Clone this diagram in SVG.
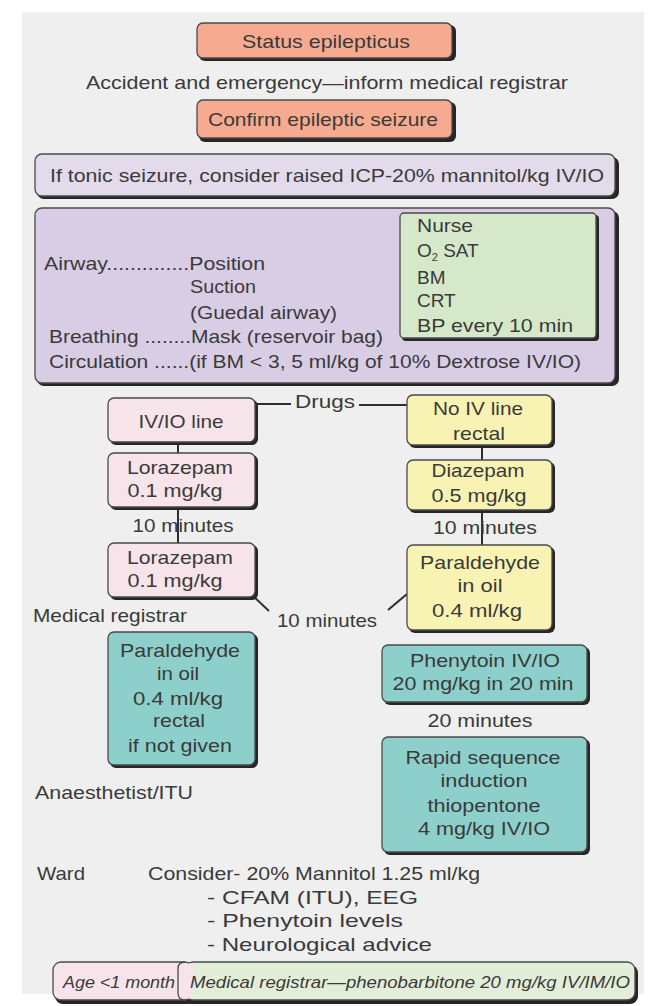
<svg xmlns="http://www.w3.org/2000/svg" width="652" height="1006" viewBox="0 0 652 1006">
<style>
text{font-family:"Liberation Sans",Arial,sans-serif;font-size:19px;fill:#3a3a3a}
.c{text-anchor:middle}
.sh{fill:#262626}
.b{stroke:#4a4a4a;stroke-width:1.3}
.salmon{fill:#f6aa8f}
.lav1{fill:#e3dbec}
.lav2{fill:#d9cde6}
.green{fill:#d6e8ca}
.pink{fill:#f7e4ea}
.yellow{fill:#f8f3b2}
.teal{fill:#8dcfcb}
.ln{stroke:#2e2e2e;stroke-width:2;fill:none}
.it{font-style:italic;font-size:17px}
</style>
<rect x="0" y="0" width="652" height="1006" fill="#ffffff"/>
<rect x="22" y="12" width="622" height="982" fill="#efefef"/>

<g id="connectors">
<line class="ln" x1="255" y1="404" x2="291" y2="404"/>
<line class="ln" x1="359" y1="405" x2="407" y2="405"/>
<line class="ln" x1="178" y1="442" x2="178" y2="453"/>
<line class="ln" x1="178" y1="507" x2="178" y2="543"/>
<line class="ln" x1="482" y1="445" x2="482" y2="460"/>
<line class="ln" x1="482" y1="510" x2="482" y2="545"/>
<line class="ln" x1="252" y1="595" x2="269" y2="611"/>
<line class="ln" x1="388" y1="610" x2="407" y2="594"/>
</g>

<g id="n-status">
<rect class="sh" x="199" y="25" width="257" height="36" rx="6"/>
<rect class="salmon b" x="197" y="23" width="255" height="35" rx="6"/>
<text class="c" x="326" y="48" textLength="168" lengthAdjust="spacingAndGlyphs">Status epilepticus</text>
</g>

<text id="t-ae" class="c" x="327" y="89" textLength="482" lengthAdjust="spacingAndGlyphs">Accident and emergency—inform medical registrar</text>

<g id="n-confirm">
<rect class="sh" x="199" y="102" width="257" height="40" rx="6"/>
<rect class="salmon b" x="197" y="100" width="255" height="38" rx="6"/>
<text class="c" x="323" y="126" textLength="230" lengthAdjust="spacingAndGlyphs">Confirm epileptic seizure</text>
</g>

<g id="n-icp">
<rect class="sh" x="37" y="157" width="582" height="42" rx="7"/>
<rect class="lav1 b" x="35" y="154" width="580" height="42" rx="7"/>
<text class="c" x="327" y="182" textLength="554" lengthAdjust="spacingAndGlyphs">If tonic seizure, consider raised ICP-20% mannitol/kg IV/IO</text>
</g>

<g id="n-abc">
<rect class="sh" x="37" y="211" width="582" height="175" rx="7"/>
<rect class="lav2 b" x="35" y="208" width="580" height="175" rx="7"/>
<text x="44" y="270" textLength="221" lengthAdjust="spacingAndGlyphs">Airway..............Position</text>
<text x="190" y="293" textLength="66" lengthAdjust="spacingAndGlyphs">Suction</text>
<text x="190" y="319" textLength="147" lengthAdjust="spacingAndGlyphs">(Guedal airway)</text>
<text x="49" y="343" textLength="334" lengthAdjust="spacingAndGlyphs">Breathing ........Mask (reservoir bag)</text>
<text x="49" y="368" textLength="532" lengthAdjust="spacingAndGlyphs">Circulation ......(if BM &lt; 3, 5 ml/kg of 10% Dextrose IV/IO)</text>
</g>

<g id="n-nurse">
<rect class="sh" x="402" y="215" width="197" height="126" rx="4"/>
<rect class="green b" x="400" y="213" width="196" height="125" rx="4"/>
<text x="417" y="232" textLength="56" lengthAdjust="spacingAndGlyphs">Nurse</text>
<text x="417" y="257">O<tspan font-size="11" dy="4">2</tspan><tspan dy="-4"> SAT</tspan></text>
<text x="417" y="284">BM</text>
<text x="417" y="307">CRT</text>
<text x="417" y="332" textLength="156" lengthAdjust="spacingAndGlyphs">BP every 10 min</text>
</g>

<g id="n-ivio">
<rect class="sh" x="110" y="400" width="148" height="45" rx="6"/>
<rect class="pink b" x="108" y="398" width="147" height="44" rx="6"/>
<text class="c" x="181" y="428" textLength="85" lengthAdjust="spacingAndGlyphs">IV/IO line</text>
</g>

<text id="t-drugs" x="295" y="408" textLength="60" lengthAdjust="spacingAndGlyphs">Drugs</text>

<g id="n-noiv">
<rect class="sh" x="409" y="397" width="146" height="51" rx="6"/>
<rect class="yellow b" x="407" y="395" width="145" height="50" rx="6"/>
<text class="c" x="478" y="415" textLength="90" lengthAdjust="spacingAndGlyphs">No IV line</text>
<text class="c" x="479" y="440" textLength="52" lengthAdjust="spacingAndGlyphs">rectal</text>
</g>

<g id="n-lor1">
<rect class="sh" x="110" y="455" width="148" height="55" rx="6"/>
<rect class="pink b" x="108" y="453" width="147" height="54" rx="6"/>
<text class="c" x="180" y="474" textLength="106" lengthAdjust="spacingAndGlyphs">Lorazepam</text>
<text class="c" x="175" y="497" textLength="95" lengthAdjust="spacingAndGlyphs">0.1 mg/kg</text>
</g>

<text id="t-10a" class="c" x="183" y="532" textLength="101" lengthAdjust="spacingAndGlyphs">10 minutes</text>

<g id="n-diaz">
<rect class="sh" x="409" y="462" width="146" height="51" rx="6"/>
<rect class="yellow b" x="407" y="460" width="145" height="50" rx="6"/>
<text class="c" x="478" y="477" textLength="93" lengthAdjust="spacingAndGlyphs">Diazepam</text>
<text class="c" x="479" y="502" textLength="95" lengthAdjust="spacingAndGlyphs">0.5 mg/kg</text>
</g>

<text id="t-10b" class="c" x="485" y="534" textLength="104" lengthAdjust="spacingAndGlyphs">10 minutes</text>

<g id="n-lor2">
<rect class="sh" x="110" y="545" width="148" height="55" rx="6"/>
<rect class="pink b" x="108" y="543" width="147" height="54" rx="6"/>
<text class="c" x="180" y="564" textLength="106" lengthAdjust="spacingAndGlyphs">Lorazepam</text>
<text class="c" x="175" y="587" textLength="95" lengthAdjust="spacingAndGlyphs">0.1 mg/kg</text>
</g>

<g id="n-para-y">
<rect class="sh" x="409" y="547" width="146" height="86" rx="6"/>
<rect class="yellow b" x="407" y="545" width="145" height="85" rx="6"/>
<text class="c" x="480" y="569" textLength="120" lengthAdjust="spacingAndGlyphs">Paraldehyde</text>
<text class="c" x="480" y="592" textLength="45" lengthAdjust="spacingAndGlyphs">in oil</text>
<text class="c" x="477" y="617" textLength="90" lengthAdjust="spacingAndGlyphs">0.4 ml/kg</text>
</g>

<text id="t-medreg" x="33" y="622" textLength="154" lengthAdjust="spacingAndGlyphs">Medical registrar</text>
<text id="t-10c" class="c" x="327" y="627" textLength="100" lengthAdjust="spacingAndGlyphs">10 minutes</text>

<g id="n-para-t">
<rect class="sh" x="110" y="634" width="148" height="134" rx="6"/>
<rect class="teal b" x="108" y="632" width="147" height="133" rx="6"/>
<text class="c" x="180" y="657" textLength="120" lengthAdjust="spacingAndGlyphs">Paraldehyde</text>
<text class="c" x="178" y="680" textLength="42" lengthAdjust="spacingAndGlyphs">in oil</text>
<text class="c" x="178" y="705" textLength="90" lengthAdjust="spacingAndGlyphs">0.4 ml/kg</text>
<text class="c" x="179" y="727" textLength="52" lengthAdjust="spacingAndGlyphs">rectal</text>
<text class="c" x="180" y="752" textLength="104" lengthAdjust="spacingAndGlyphs">if not given</text>
</g>

<g id="n-phenytoin">
<rect class="sh" x="384" y="647" width="206" height="58" rx="6"/>
<rect class="teal b" x="382" y="645" width="205" height="57" rx="6"/>
<text class="c" x="485" y="667" textLength="150" lengthAdjust="spacingAndGlyphs">Phenytoin IV/IO</text>
<text class="c" x="483" y="690" textLength="181" lengthAdjust="spacingAndGlyphs">20 mg/kg in 20 min</text>
</g>

<text id="t-20" class="c" x="480" y="727" textLength="105" lengthAdjust="spacingAndGlyphs">20 minutes</text>

<g id="n-rsi">
<rect class="sh" x="384" y="739" width="206" height="116" rx="6"/>
<rect class="teal b" x="382" y="737" width="205" height="115" rx="6"/>
<text class="c" x="483" y="764" textLength="155" lengthAdjust="spacingAndGlyphs">Rapid sequence</text>
<text class="c" x="484" y="787" textLength="87" lengthAdjust="spacingAndGlyphs">induction</text>
<text class="c" x="484" y="812" textLength="113" lengthAdjust="spacingAndGlyphs">thiopentone</text>
<text class="c" x="484" y="835" textLength="132" lengthAdjust="spacingAndGlyphs">4 mg/kg IV/IO</text>
</g>

<text id="t-anaes" x="35" y="799" textLength="158" lengthAdjust="spacingAndGlyphs">Anaesthetist/ITU</text>

<g id="t-ward">
<text x="37" y="880" textLength="48" lengthAdjust="spacingAndGlyphs">Ward</text>
<text x="148" y="880" textLength="332" lengthAdjust="spacingAndGlyphs">Consider- 20% Mannitol 1.25 ml/kg</text>
<text x="207" y="904" textLength="211" lengthAdjust="spacingAndGlyphs">- CFAM (ITU), EEG</text>
<text x="207" y="927" textLength="196" lengthAdjust="spacingAndGlyphs">- Phenytoin levels</text>
<text x="207" y="951" textLength="225" lengthAdjust="spacingAndGlyphs">- Neurological advice</text>
</g>

<g id="n-age">
<rect class="sh" x="55" y="965" width="583" height="39" rx="8"/>
<rect class="pink b" x="53" y="962" width="140" height="38" rx="8"/>
<rect class="b" x="185" y="962" width="450" height="38" rx="8" fill="#e2eed7"/>
<rect x="177" y="963.5" width="16" height="35" fill="#f7e4ea"/>
<path class="b" d="M185 962 Q178 962 178 969 L178 993 Q178 1000 185 1000" fill="none"/>
<text class="it" x="63" y="988" textLength="112" lengthAdjust="spacingAndGlyphs">Age &lt;1 month</text>
<text class="it" x="190" y="988" textLength="440" lengthAdjust="spacingAndGlyphs">Medical registrar—phenobarbitone 20 mg/kg IV/IM/IO</text>
</g>
</svg>
